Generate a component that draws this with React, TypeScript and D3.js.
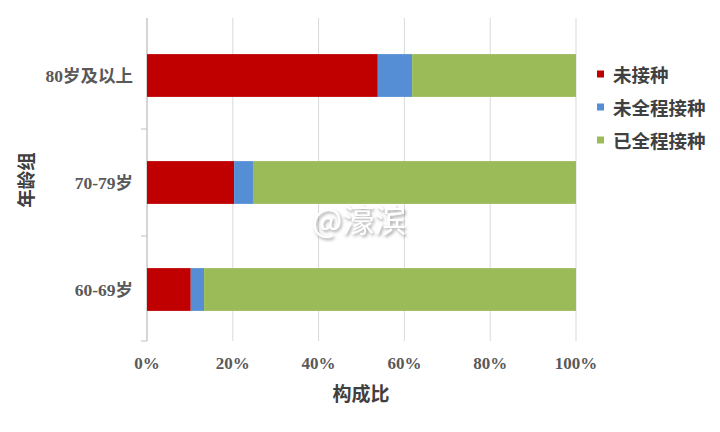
import React from "react";
import * as d3 from "d3";

const categories = ["80岁及以上", "70-79岁", "60-69岁"];
const seriesNames = ["未接种", "未全程接种", "已全程接种"];
const notVaccinated = [53.8, 20.3, 10.2];
const partial = [8.0, 4.4, 3.1];
const full = [38.2, 75.3, 86.7];
const xTicks = [0, 20, 40, 60, 80, 100];
const colors = ["#C00000", "#558ED5", "#9BBB59"];

const W = 720, H = 432;
const M = { left: 147, right: 576, top: 22, bottom: 343 };
const serif = "'Liberation Serif', 'Times New Roman', 'Noto Sans CJK SC', serif";
const cjk = "'Noto Sans CJK SC', sans-serif";

export default function App() {
  const x = d3.scaleLinear().domain([0, 100]).range([M.left, M.right]);
  const y = d3.scaleBand<string>().domain(categories).range([M.top, M.bottom]).paddingInner(0.6).paddingOuter(0.3);
  const rows = categories.map((c, i) => ({ cat: c, v0: notVaccinated[i], v1: partial[i], v2: full[i] }));
  const stack = d3.stack<any>().keys(["v0", "v1", "v2"])(rows);
  const step = (M.bottom - M.top) / categories.length;
  const boundaries = d3.range(1, categories.length).map((i) => M.top + i * step);
  return (
    <svg width={W} height={H} style={{ display: "block", position: "absolute", left: 0, top: 0 }}>
      <defs>
        <filter id="sh" x="-20%" y="-40%" width="140%" height="180%">
          <feDropShadow dx="1.5" dy="2" stdDeviation="1.5" floodColor="#888" floodOpacity="0.8" />
        </filter>
      </defs>
      <rect width={W} height={H} fill="#fff" />
      {xTicks.map((t) => (
        <line key={t} x1={x(t)} x2={x(t)} y1={18} y2={341} stroke="#D9D9D9" strokeWidth={1} />
      ))}
      <line x1={M.left} x2={M.left} y1={18} y2={341} stroke="#BFBFBF" />
      {boundaries.map((b, i) => (
        <line key={i} x1={M.left - 6} x2={M.left} y1={b} y2={b} stroke="#BFBFBF" />
      ))}
      <line x1={M.left - 6} x2={M.left} y1={341} y2={341} stroke="#BFBFBF" />
      {stack.map((s, si) =>
        s.map((d, i) => (
          <rect key={si + "-" + i} x={x(d[0])} width={x(d[1]) - x(d[0])} y={y(categories[i])}
            height={y.bandwidth()} fill={colors[si]} />
        ))
      )}
      {categories.map((c) => (
        <text key={c} x={133} y={(y(c) as number) + y.bandwidth() / 2} textAnchor="end" dominantBaseline="central"
          fontFamily={serif} fontWeight="bold" fontSize={17.5} fill="#595959">{c}</text>
      ))}
      {xTicks.map((t) => (
        <text key={t} x={x(t)} y={369} textAnchor="middle" fontFamily={serif} fontWeight="bold" fontSize={17} fill="#595959">{t + "%"}</text>
      ))}
      <text x={361} y={401} textAnchor="middle" fontFamily={cjk} fontWeight="bold" fontSize={19} fill="#404040">构成比</text>
      <text transform="translate(33,180) rotate(-90)" textAnchor="middle" fontFamily={cjk} fontWeight="bold" fontSize={18.5} fill="#404040">年龄组</text>
      {seriesNames.map((n, i) => {
        const cy = 74 + i * 33;
        return (
          <g key={n}>
            <rect x={597} y={cy - 3.5} width={7} height={7} fill={colors[i]} />
            <text x={613} y={cy} dominantBaseline="central" fontFamily={cjk} fontWeight="bold" fontSize={18.5} fill="#404040">{n}</text>
          </g>
        );
      })}
      <text x={312} y={232} fontFamily={cjk} fontSize={32} fill="#fff" filter="url(#sh)">@濠滨</text>
    </svg>
  );
}
